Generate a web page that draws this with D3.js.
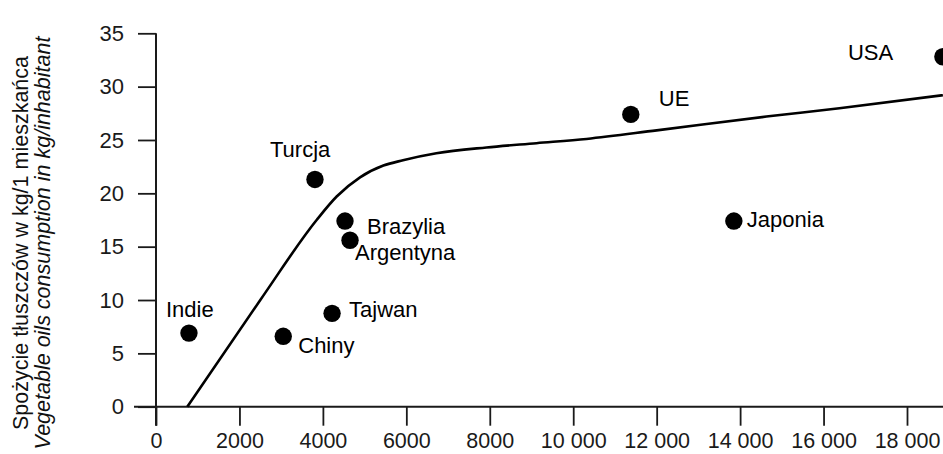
<!DOCTYPE html>
<html>
<head>
<meta charset="utf-8">
<script src="https://cdn.jsdelivr.net/npm/d3@7"></script>
<style>
  html, body { margin: 0; padding: 0; background: #fff; }
  svg { display: block; }
</style>
</head>
<body>
<svg id="chart" width="943" height="454"></svg>
<script>
// ---- data ----
const countries = ["Indie", "Chiny", "Turcja", "Tajwan", "Brazylia", "Argentyna", "UE", "Japonia", "USA"];
const income    = [790, 3050, 3810, 4220, 4530, 4650, 11380, 13850, 18860];
const oilUse    = [6.9, 6.6, 21.3, 8.75, 17.4, 15.6, 27.4, 17.4, 32.8];

const trendX = [750, 2500, 3850, 4330, 4890, 5450, 5920, 6720, 7920, 9120, 10320, 12000, 14630, 16380, 18860];
const trendY = [0, 10.0, 17.5, 19.7, 21.5, 22.6, 23.1, 23.75, 24.3, 24.7, 25.1, 25.9, 27.2, 27.97, 29.2];

const xTicks = [0, 2000, 4000, 6000, 8000, 10000, 12000, 14000, 16000, 18000];
const xTickLabels = ["0", "2000", "4000", "6000", "8000", "10 000", "12 000", "14 000", "16 000", "18 000"];
const yTicks = [0, 5, 10, 15, 20, 25, 30, 35];
const yTickLabels = ["0", "5", "10", "15", "20", "25", "30", "35"];

const yTitle1 = "Spożycie tłuszczów w kg/1 mieszkańca";
const yTitle2 = "Vegetable oils consumption in kg/inhabitant";

// ---- layout (label offsets relative to the dot, in px) ----
const labelDx = [-23, 15, -45, 17, 22, 5, 28, 13, -95];
const labelDy = [-16, 17, -22, 4, 13, 20, -8, 6, 3];

const svg = d3.select("#chart");
const W = 943, H = 454;

const x = d3.scaleLinear().domain([0, 18000]).range([156, 907]);
const y = d3.scaleLinear().domain([0, 35]).range([406.7, 33.3]);

const ink = "#1a1a1a";
const tickFont = "'Liberation Sans', Arial, sans-serif";
const labelFont = "'Liberation Sans', Arial, sans-serif";

// X axis
const xAxis = d3.axisBottom(x)
  .tickValues(xTicks)
  .tickSize(19)
  .tickSizeOuter(0)
  .tickPadding(7)
  .tickFormat((d, i) => xTickLabels[i]);
const gx = svg.append("g").attr("transform", `translate(0,${y(0)})`).call(xAxis);
gx.select(".domain").remove();
gx.append("line")
  .attr("x1", x(0) - 22).attr("x2", W)
  .attr("y1", 0).attr("y2", 0)
  .attr("stroke", ink).attr("stroke-width", 2);
gx.selectAll(".tick line").attr("stroke", ink).attr("stroke-width", 1.8);
gx.selectAll(".tick text")
  .attr("fill", ink)
  .style("font-family", tickFont)
  .style("font-size", "21.5px");

// Y axis
const yAxis = d3.axisLeft(y)
  .tickValues(yTicks)
  .tickSize(18)
  .tickSizeOuter(0)
  .tickPadding(14)
  .tickFormat((d, i) => yTickLabels[i]);
const gy = svg.append("g").attr("transform", `translate(${x(0)},0)`).call(yAxis);
gy.select(".domain").remove();
gy.append("line")
  .attr("x1", 0).attr("x2", 0)
  .attr("y1", y(35)).attr("y2", y(0) + 19)
  .attr("stroke", ink).attr("stroke-width", 2);
gy.selectAll(".tick line").attr("stroke", ink).attr("stroke-width", 1.8);
gy.selectAll(".tick text")
  .attr("fill", ink)
  .style("font-family", tickFont)
  .style("font-size", "22px");

// Y title (two lines)
const titleCy = 243;
svg.append("text")
  .attr("transform", `translate(28,${titleCy}) rotate(-90)`)
  .attr("text-anchor", "middle")
  .style("font-family", labelFont)
  .style("font-size", "21.5px")
  .attr("fill", "#111")
  .text(yTitle1);
svg.append("text")
  .attr("transform", `translate(50,${titleCy}) rotate(-90)`)
  .attr("text-anchor", "middle")
  .style("font-family", labelFont)
  .style("font-size", "21.5px")
  .style("font-style", "italic")
  .attr("fill", "#111")
  .text(yTitle2);

// Trend curve
const trend = trendX.map((v, i) => [v, trendY[i]]);
const line = d3.line()
  .x(d => x(d[0]))
  .y(d => y(d[1]))
  .curve(d3.curveMonotoneX);
svg.append("path")
  .datum(trend)
  .attr("d", line)
  .attr("fill", "none")
  .attr("stroke", "#000")
  .attr("stroke-width", 2.6);

// Points
const pts = countries.map((c, i) => ({ c, x: income[i], y: oilUse[i], dx: labelDx[i], dy: labelDy[i] }));
svg.append("g").selectAll("circle")
  .data(pts)
  .join("circle")
  .attr("cx", d => x(d.x))
  .attr("cy", d => y(d.y))
  .attr("r", 8.7)
  .attr("fill", "#000");

svg.append("g").selectAll("text")
  .data(pts)
  .join("text")
  .attr("x", d => x(d.x) + d.dx)
  .attr("y", d => y(d.y) + d.dy)
  .style("font-family", labelFont)
  .style("font-size", "22px")
  .attr("fill", "#000")
  .text(d => d.c);
</script>
</body>
</html>
